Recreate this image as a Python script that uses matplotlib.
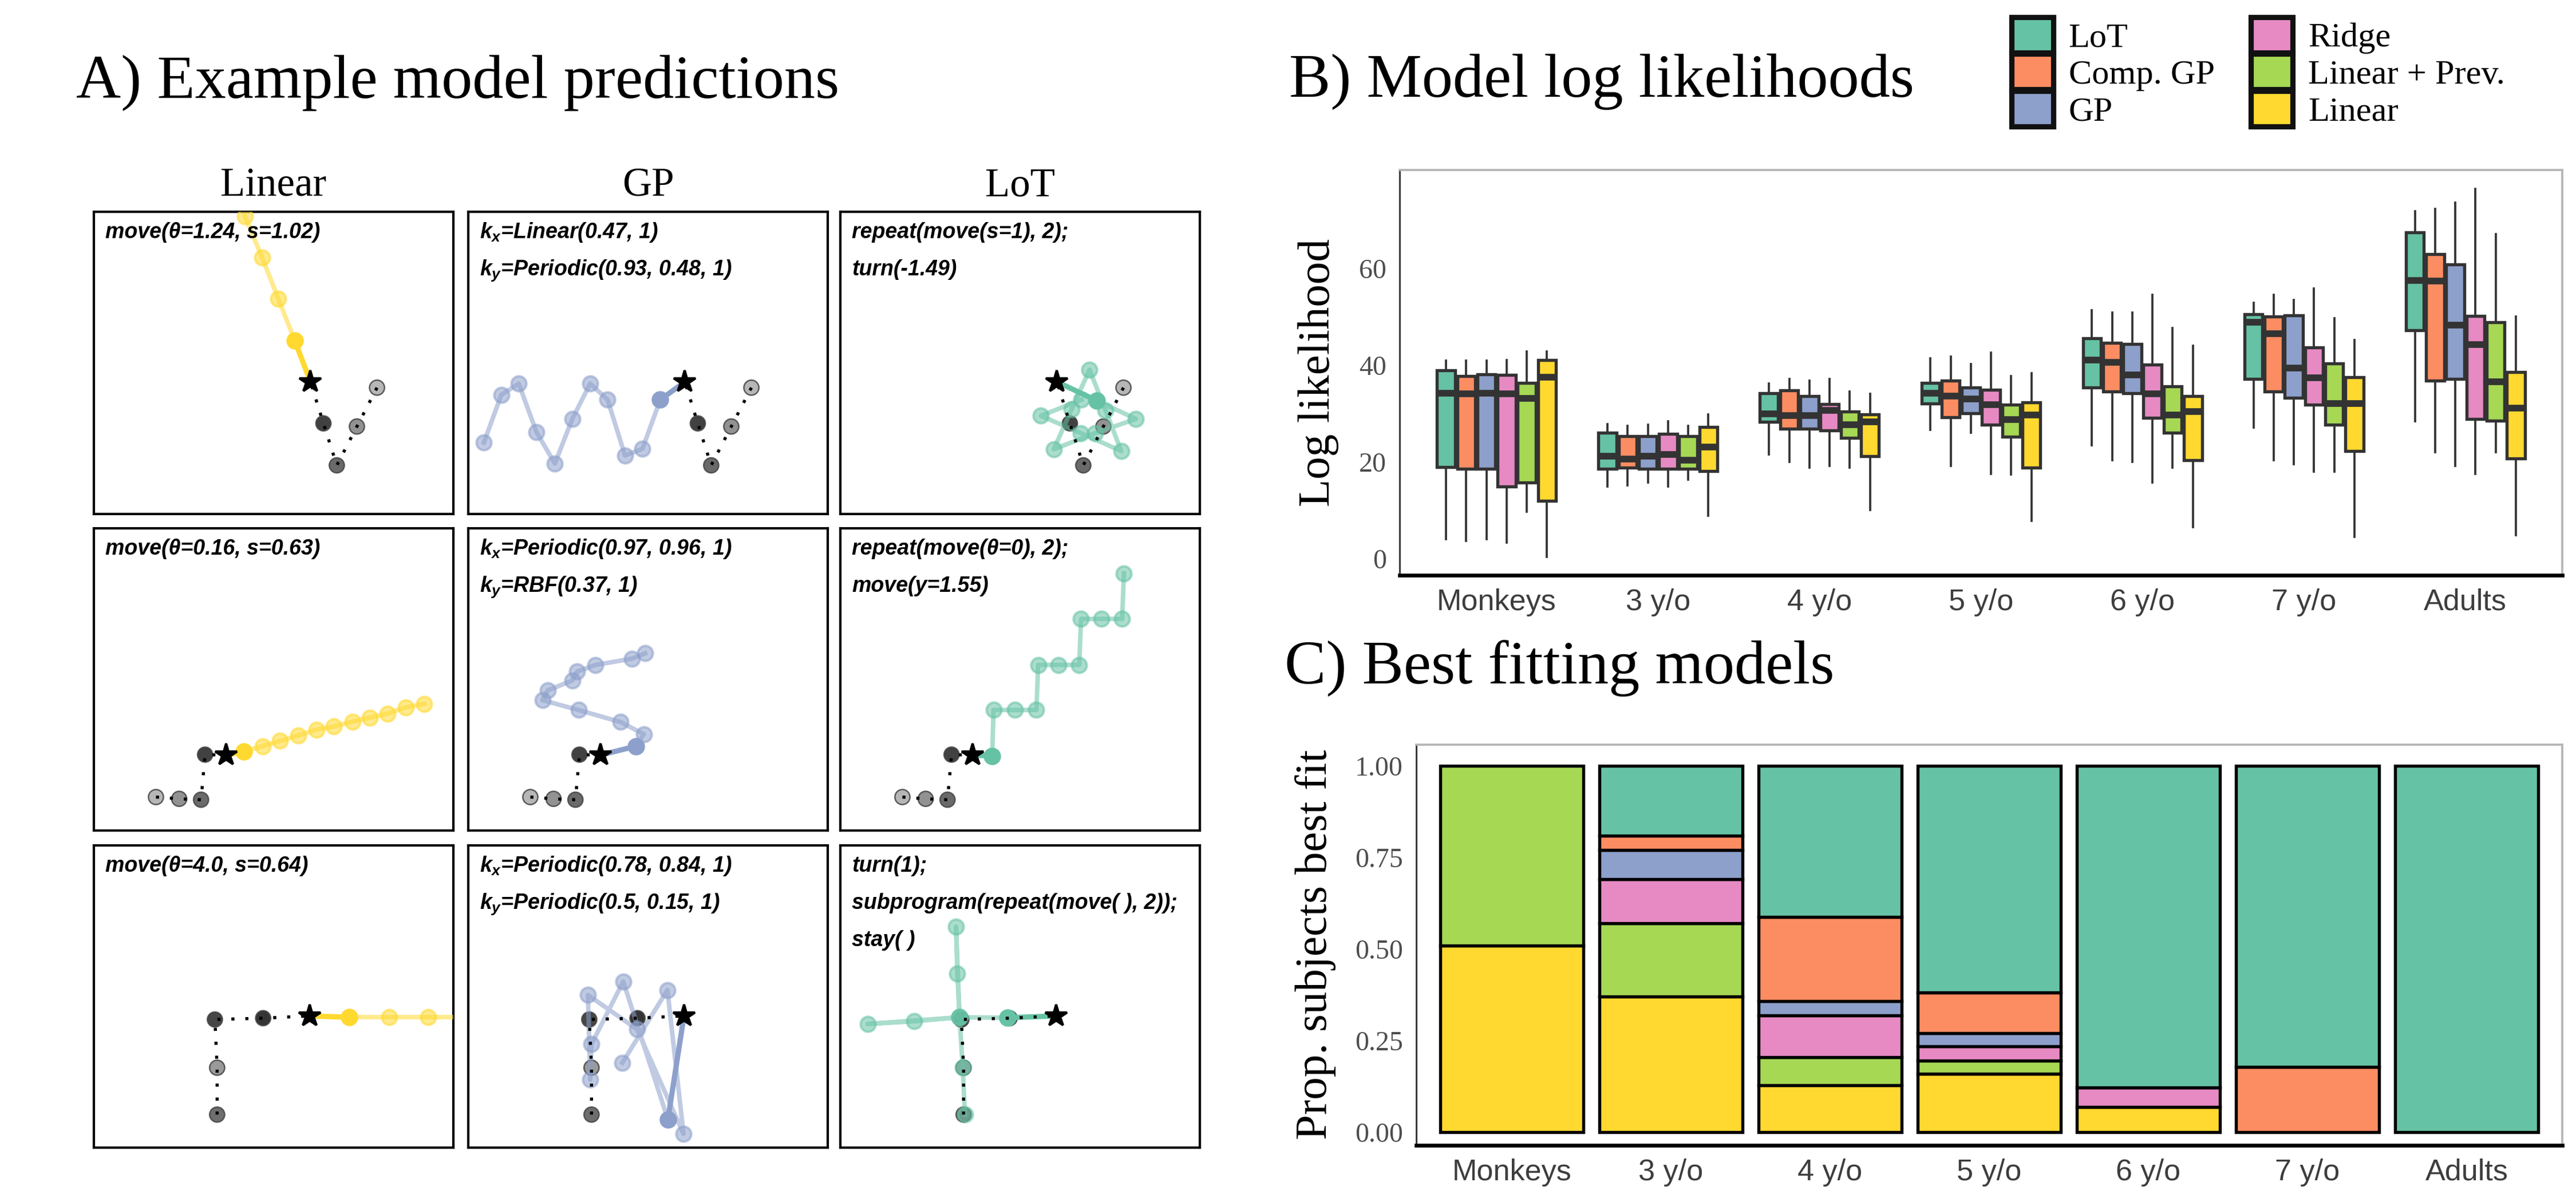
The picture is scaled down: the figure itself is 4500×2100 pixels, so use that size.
import numpy as np
import matplotlib
matplotlib.use("Agg")
import matplotlib.pyplot as plt
from matplotlib.patches import Patch

plt.rcParams['font.family'] = ['Liberation Serif', 'DejaVu Serif']
plt.rcParams['mathtext.fontset'] = 'custom'
plt.rcParams['mathtext.it'] = 'Liberation Sans:italic:bold'
plt.rcParams['mathtext.rm'] = 'Liberation Sans:bold'

# ---------------- data ----------------
model_names = ['LoT', 'Comp. GP', 'GP', 'Ridge', 'Linear + Prev.', 'Linear']
model_colors = ['#66c2a5', '#fc8d62', '#8da0cb', '#e78ac3', '#a6d854', '#ffd92f']
groups = ['Monkeys', '3 y/o', '4 y/o', '5 y/o', '6 y/o', '7 y/o', 'Adults']

# B) log likelihood box stats, one row per model, one column per group
ll_whislo = [[4.1, 15.0, 21.6, 26.7, 23.5, 27.1, 28.4],
             [3.7, 15.2, 20.0, 19.2, 20.4, 20.4, 22.1],
             [4.1, 15.8, 18.8, 26.1, 20.0, 19.6, 19.2],
             [3.3, 15.0, 19.2, 17.6, 15.8, 18.0, 17.6],
             [9.7, 16.4, 18.9, 17.4, 18.8, 18.0, 22.1],
             [0.4, 8.9, 10.1, 7.9, 6.5, 4.5, 4.9]]
ll_q1 = [[19.0, 18.6, 28.3, 32.1, 35.4, 37.2, 47.3],
         [18.6, 18.9, 26.9, 29.3, 34.6, 34.6, 36.8],
         [18.6, 18.6, 26.9, 30.1, 34.2, 33.3, 37.2],
         [15.0, 18.6, 26.5, 27.7, 29.2, 31.9, 28.9],
         [15.8, 18.6, 25.0, 25.3, 26.1, 27.7, 28.5],
         [12.0, 18.1, 21.2, 18.9, 20.4, 22.3, 20.8]]
ll_med = [[34.2, 21.2, 30.0, 34.2, 41.1, 48.9, 57.6],
          [34.1, 20.6, 29.6, 33.6, 40.6, 46.5, 57.4],
          [34.2, 21.2, 29.6, 33.0, 38.0, 39.5, 48.3],
          [34.1, 21.6, 30.7, 31.9, 34.1, 37.4, 44.3],
          [33.2, 20.4, 27.7, 28.8, 29.7, 32.1, 36.6],
          [37.6, 23.1, 28.3, 29.7, 30.4, 32.1, 31.2]]
ll_q3 = [[39.0, 26.1, 34.2, 36.4, 45.6, 50.6, 67.5],
         [37.8, 25.4, 34.8, 36.8, 44.7, 50.1, 63.0],
         [38.2, 25.4, 33.6, 35.4, 44.4, 50.3, 60.9],
         [38.0, 25.8, 32.0, 34.9, 40.2, 43.7, 50.2],
         [36.4, 25.4, 30.4, 31.9, 35.7, 40.4, 48.9],
         [41.1, 27.3, 29.9, 32.4, 33.6, 37.6, 38.6]]
ll_whishi = [[41.0, 27.9, 36.2, 41.5, 51.4, 52.9, 71.9],
             [41.0, 27.5, 37.2, 41.8, 50.9, 54.6, 72.3],
             [41.0, 27.7, 36.8, 40.3, 50.9, 53.5, 73.6],
             [41.1, 28.4, 37.2, 42.7, 54.6, 55.9, 76.5],
             [42.9, 27.5, 34.6, 37.8, 47.7, 49.7, 67.1],
             [42.9, 29.9, 34.1, 38.4, 44.1, 45.3, 50.1]]

# C) proportion of subjects best fit by each model
best_fit = [[0.0, 0.19, 0.412, 0.618, 0.878, 0.822, 1.0],
            [0.0, 0.04, 0.23, 0.112, 0.0, 0.178, 0.0],
            [0.0, 0.08, 0.039, 0.036, 0.0, 0.0, 0.0],
            [0.0, 0.12, 0.115, 0.038, 0.054, 0.0, 0.0],
            [0.49, 0.20, 0.076, 0.037, 0.0, 0.0, 0.0],
            [0.51, 0.37, 0.128, 0.159, 0.068, 0.0, 0.0]]

# A) example trajectories (grid units), history shared per row
hist1_x = [6.34, 5.89, 5.44, 5.14]
hist1_y = [2.83, 1.96, 1.09, 2.03]
star1 = [4.85, 2.96]
hist2_x = [1.39, 1.91, 2.40, 2.49]
hist2_y = [0.75, 0.71, 0.69, 1.70]
star2 = [2.96, 1.69]
hist3_x = [2.76, 2.76, 2.71, 3.79]
hist3_y = [0.74, 1.79, 2.87, 2.90]
star3 = [4.83, 2.95]

lin1_x = [4.50, 4.13, 3.77, 3.38]
lin1_y = [3.88, 4.82, 5.74, 6.67]
gp1_x = [4.30, 3.90, 3.51, 3.12, 2.73, 2.33, 1.94, 1.53, 1.13, 0.74, 0.35]
gp1_y = [2.56, 1.46, 1.31, 2.56, 2.92, 2.13, 1.13, 1.83, 2.92, 2.67, 1.60]
lot1_x = [5.74, 6.62, 5.70, 4.78, 5.18, 5.58, 5.94, 6.29, 5.39, 4.49, 5.40]
lot1_y = [2.54, 2.13, 1.81, 1.45, 2.35, 3.23, 2.32, 1.41, 1.81, 2.20, 2.56]

lin2_x = [3.36, 3.78, 4.17, 4.58, 4.98, 5.37, 5.79, 6.18, 6.58, 6.99, 7.40]
lin2_y = [1.77, 1.89, 2.01, 2.13, 2.26, 2.33, 2.44, 2.53, 2.62, 2.76, 2.84]
gp2_x = [3.76, 3.93, 3.41, 2.47, 1.66, 1.78, 2.33, 2.44, 2.85, 3.67, 3.96]
gp2_y = [1.89, 2.16, 2.43, 2.70, 2.92, 3.14, 3.36, 3.56, 3.71, 3.85, 3.97]
lot2_x = [3.40, 3.43, 3.91, 4.39, 4.43, 4.89, 5.35, 5.39, 5.85, 6.31, 6.35]
lot2_y = [1.67, 2.70, 2.70, 2.70, 3.71, 3.71, 3.71, 4.74, 4.74, 4.74, 5.76]

lin3_x = [5.72, 6.61, 7.48, 8.37]
lin3_y = [2.92, 2.92, 2.92, 2.92]
gp3_x = [4.47, 3.47, 2.76, 2.73, 2.68, 3.78, 4.82, 4.46, 3.45]
gp3_y = [0.63, 3.72, 2.32, 1.52, 3.42, 2.65, 0.31, 3.53, 1.90]
lot3_x = [3.74, 2.67, 2.62, 2.59, 2.67, 1.65, 0.61, 2.67, 2.74, 2.79]
lot3_y = [2.91, 2.92, 3.90, 4.95, 2.92, 2.83, 2.77, 2.92, 1.79, 0.74]

labels_row1 = [["move(θ=1.24, s=1.02)"],
               ["$k_x$=Linear(0.47, 1)", "$k_y$=Periodic(0.93, 0.48, 1)"],
               ["repeat(move(s=1), 2);", "turn(-1.49)"]]
labels_row2 = [["move(θ=0.16, s=0.63)"],
               ["$k_x$=Periodic(0.97, 0.96, 1)", "$k_y$=RBF(0.37, 1)"],
               ["repeat(move(θ=0), 2);", "move(y=1.55)"]]
labels_row3 = [["move(θ=4.0, s=0.64)"],
               ["$k_x$=Periodic(0.78, 0.84, 1)", "$k_y$=Periodic(0.5, 0.15, 1)"],
               ["turn(1);", "subprogram(repeat(move( ), 2));", "stay( )"]]

shades_a = ['#a9a9a9', '#7f7f7f', '#505050', '#1f1f1f']
shades_b = ['#555555', '#888888', '#262626', '#111111']

W, H = 4500, 2100
fig = plt.figure(figsize=(15, 7), dpi=300)


def px_axes(left, top, width, height):
    return fig.add_axes([left / W, 1 - (top + height) / H, width / W, height / H])


def draw_panel(ax, hx, hy, shades, star, pxs, pys, color, lines):
    ax.set_xlim(0, 8.05)
    ax.set_ylim(0, 6.77)
    ax.set_xticks([])
    ax.set_yticks([])
    for s in ax.spines.values():
        s.set_linewidth(1.0)
        s.set_color('black')
    # history
    ax.scatter(hx, hy, s=6.3 ** 2, c=shades, edgecolors='#444444',
               linewidths=0.6, alpha=0.85, zorder=2)
    ax.plot(list(hx) + [star[0]], list(hy) + [star[1]], color='black', lw=1.3,
            ls=(0, (1, 3.5)), dash_capstyle='butt', zorder=4)
    # predictions
    ax.plot(pxs, pys, color=color, lw=1.9, alpha=0.55, zorder=3)
    ax.plot(pxs[1:], pys[1:], 'o', ms=6.3, color=color, mec=color, alpha=0.55,
            zorder=3)
    ax.plot([star[0], pxs[0]], [star[1], pys[0]], color=color, lw=2.2, zorder=3.5)
    ax.plot(pxs[0], pys[0], 'o', ms=6.3, color=color, zorder=3.5)
    ax.plot(star[0], star[1], marker='*', ms=9.5, color='black', lw=0, zorder=5)
    for i, t in enumerate(lines):
        ax.text(0.032, 0.913 - i * 0.123, t, transform=ax.transAxes,
                family='Liberation Sans', weight='bold', style='italic',
                fontsize=9, va='baseline', ha='left', zorder=6)


col_left = [164, 818, 1468]
row_top = [370, 923, 1477]
box_w, box_h = 628, 528

rows = [
    (hist1_x, hist1_y, shades_a, star1,
     [(lin1_x, lin1_y), (gp1_x, gp1_y), (lot1_x, lot1_y)], labels_row1),
    (hist2_x, hist2_y, shades_a, star2,
     [(lin2_x, lin2_y), (gp2_x, gp2_y), (lot2_x, lot2_y)], labels_row2),
    (hist3_x, hist3_y, shades_b, star3,
     [(lin3_x, lin3_y), (gp3_x, gp3_y), (lot3_x, lot3_y)], labels_row3),
]
col_colors = [model_colors[5], model_colors[2], model_colors[0]]
col_titles = ['Linear', 'GP', 'LoT']

for r, (hx, hy, sh, st, preds, labs) in enumerate(rows):
    for c in range(3):
        ax = px_axes(col_left[c], row_top[r], box_w, box_h)
        draw_panel(ax, hx, hy, sh, st, preds[c][0], preds[c][1], col_colors[c], labs[c])
        if r == 0:
            ax.text(0.5, 1 + 27 / box_h, col_titles[c], transform=ax.transAxes,
                    ha='center', va='baseline', fontsize=17)

fig.text(133 / W, 1 - 171 / H, 'A) Example model predictions', fontsize=26,
         va='baseline', ha='left')
fig.text(2252 / W, 1 - 169 / H, 'B) Model log likelihoods', fontsize=26,
         va='baseline', ha='left')
fig.text(2244 / W, 1 - 1194 / H, 'C) Best fitting models', fontsize=26,
         va='baseline', ha='left')

tick_grey = '#3d3d3d'


def style_axes(ax):
    for side in ['top', 'right']:
        ax.spines[side].set_color('#b5b5b5')
        ax.spines[side].set_linewidth(0.9)
    ax.spines['left'].set_color('#333333')
    ax.spines['left'].set_linewidth(0.7)
    ax.spines['bottom'].set_color('black')
    ax.spines['bottom'].set_linewidth(1.6)
    ax.set_xlim(0.4, 7.6)
    ax.set_xticks(np.arange(1, 8))
    ax.set_xticklabels(groups, family='Liberation Sans', fontsize=12.5, color=tick_grey)
    ax.tick_params(axis='both', length=0)
    ax.tick_params(axis='x', pad=5.5)
    ax.tick_params(axis='y', pad=5.5, labelsize=11.5, labelcolor='#4d4d4d')


# ---------------- B) boxplots ----------------
axb = px_axes(2445, 297, 2031, 708)
style_axes(axb)
xpos = np.arange(1, 8)
offsets = (np.arange(6) - 2.5) * 0.125
for m in range(6):
    stats = []
    for g in range(7):
        stats.append(dict(whislo=ll_whislo[m][g], q1=ll_q1[m][g], med=ll_med[m][g],
                          q3=ll_q3[m][g], whishi=ll_whishi[m][g]))
    axb.bxp(stats, positions=xpos + offsets[m], widths=0.112, patch_artist=True,
            showfliers=False, showcaps=False, manage_ticks=False,
            boxprops=dict(facecolor=model_colors[m], edgecolor='#333333', linewidth=1.3),
            medianprops=dict(color='#333333', linewidth=2.8),
            whiskerprops=dict(color='#333333', linewidth=0.9))
axb.set_ylim(-3.4, 80.4)
axb.set_yticks([0, 20, 40, 60])
fig.text(2303 / W, 1 - 651 / H, 'Log likelihood', rotation=90, fontsize=19,
         ha='center', va='center')

handles = [Patch(facecolor=c, edgecolor='#111111', linewidth=2.2) for c in model_colors]
fig.legend(handles, model_names, ncol=2, loc='upper left',
           bbox_to_anchor=(3514 / W, 1 - 30 / H), frameon=False, fontsize=14.5,
           handlelength=1.2, handleheight=1.2, labelspacing=0.0,
           columnspacing=1.05, handletextpad=0.45, borderpad=0.0, borderaxespad=0.0)

# ---------------- C) stacked bars ----------------
axc = px_axes(2474, 1301, 2002, 700)
style_axes(axc)
bottom = np.zeros(7)
for m in range(5, -1, -1):
    vals = np.array(best_fit[m])
    keep = vals > 0
    axc.bar(xpos[keep], vals[keep], width=0.9, bottom=bottom[keep],
            color=model_colors[m], edgecolor='black', linewidth=1.3)
    bottom = bottom + vals
axc.set_ylim(-0.036, 1.058)
axc.set_yticks([0, 0.25, 0.5, 0.75, 1.0])
axc.set_yticklabels(['0.00', '0.25', '0.50', '0.75', '1.00'])
fig.text(2298 / W, 1 - 1650 / H, 'Prop. subjects best fit', rotation=90,
         fontsize=19, ha='center', va='center')

fig.savefig('out.png', dpi=300)
